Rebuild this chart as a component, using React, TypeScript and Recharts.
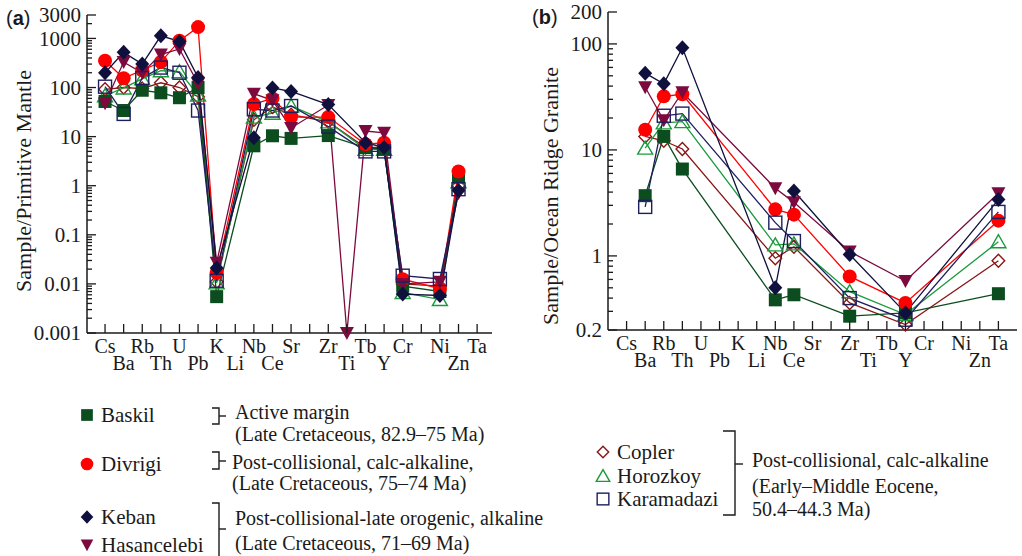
import React from 'react'
import { LineChart, Line, XAxis, YAxis } from 'recharts'

const SERIF = '"Liberation Serif", "Times New Roman", serif'
const SANS = '"Liberation Sans", Arial, sans-serif'
const INK = '#1a1a1a'

// element order on both spider diagrams ('' = unlabelled slot)
const ELEMENTS = ['Cs', 'Ba', 'Rb', 'Th', 'U', 'Pb', 'K', 'Li', 'Nb', 'Ce', 'Sr', '', 'Zr', 'Ti', 'Tb', 'Y', 'Cr', '', 'Ni', 'Zn', 'Ta']

// (a) sample / primitive mantle, one value per element (null = not plotted)
const BASKIL_A = [52, 34, 88, 78, 62, 100, 0.0055, null, 6.5, 10.4, 9.2, null, 10.5, null, 6, 5.5, 0.009, null, 0.007, 1.5, null]
const DIVRIGI_A = [350, 155, 225, 330, 900, 1700, 0.017, null, 46, 60, 25, null, 25, null, 7, 7.5, 0.0125, null, 0.008, 1.95, null]
const KEBAN_A = [200, 520, 300, 1130, 870, 160, 0.021, null, 9.5, 98, 83, null, 45, null, 7.5, 6, 0.0062, null, 0.0058, 0.8, null]
const HASAN_A = [48, 330, 200, 470, 610, 120, 0.027, null, 75, 55, 15, null, 44, 0.001, 13, 12, 0.01, null, 0.011, 0.7, null]
const COPLER_A = [92, 100, 95, 125, 100, 65, 0.011, null, 22, 40, 28, null, 20, null, 6, 6, 0.01, null, 0.009, 1.0, null]
const HOROZ_A = [68, 98, 150, 220, 210, 70, 0.0105, null, 25, 30, 42, null, 20, null, 5.5, 5.5, 0.0067, null, 0.0048, 1.2, null]
const KARAM_A = [104, 29, 156, 255, 200, 34, 0.0116, null, 36, 34, 42, null, 16, null, 5, 5, 0.0147, null, 0.0126, 0.85, null]

// (b) sample / ocean ridge granite, only these elements
const ORG_ELEMENTS = ['Ba', 'Rb', 'Th', 'Nb', 'Ce', 'Zr', 'Y', 'Ta']
const BASKIL_B = [3.7, 13.4, 6.6, 0.385, 0.43, 0.27, 0.29, 0.44]
const DIVRIGI_B = [15.5, 32, 33.5, 2.75, 2.45, 0.64, 0.36, 2.15]
const KEBAN_B = [53, 42, 92, 0.5, 4.1, 1.03, 0.29, 3.4]
const HASAN_B = [39, 19, 35, 4.35, 3.2, 1.1, 0.58, 3.9]
const COPLER_B = [13.4, 12.2, 10.2, 0.95, 1.22, 0.36, 0.225, 0.9]
const HOROZ_B = [10.4, 18, 18.5, 1.27, 1.3, 0.46, 0.28, 1.36]
const KARAM_B = [2.9, 21, 22, 2.06, 1.38, 0.4, 0.25, 2.6]

// y axis tick labels
const MAJOR_A = [0.001, 0.01, 0.1, 1, 10, 100, 1000, 3000]
const MAJOR_B = [0.2, 1, 10, 100, 200]
const MINOR_STEPS = [2, 3, 4, 5, 6, 7, 8, 9]

type Shape = 'square' | 'circle' | 'diamond' | 'down' | 'up'
type Series = { key: string; color: string; shape: Shape; filled: boolean; a: (number | null)[]; b: number[] }

// drawing order: last one ends up on top
const SERIES: Series[] = [
  { key: 'Copler', color: '#8a1616', shape: 'diamond', filled: false, a: COPLER_A, b: COPLER_B },
  { key: 'Horozkoy', color: '#1a9a3c', shape: 'up', filled: false, a: HOROZ_A, b: HOROZ_B },
  { key: 'Baskil', color: '#0b4d1e', shape: 'square', filled: true, a: BASKIL_A, b: BASKIL_B },
  { key: 'Divrigi', color: '#ff0000', shape: 'circle', filled: true, a: DIVRIGI_A, b: DIVRIGI_B },
  { key: 'Hasancelebi', color: '#7c0a3e', shape: 'down', filled: true, a: HASAN_A, b: HASAN_B },
  { key: 'Karamadazi', color: '#1e1e5e', shape: 'square', filled: false, a: KARAM_A, b: KARAM_B },
  { key: 'Keban', color: '#10103e', shape: 'diamond', filled: true, a: KEBAN_A, b: KEBAN_B },
]
const byKey = (k: string) => SERIES.find((s) => s.key === k)!

const rowsA = ELEMENTS.map((el, i) => {
  const row: Record<string, any> = { i, el }
  SERIES.forEach((s) => (row[s.key] = s.a[i]))
  return row
})
const rowsB = ORG_ELEMENTS.map((el, k) => {
  const row: Record<string, any> = { i: ELEMENTS.indexOf(el), el }
  SERIES.forEach((s) => (row[s.key] = s.b[k]))
  return row
})

function logTicks(majors: number[]) {
  const lo = majors[0]
  const hi = majors[majors.length - 1]
  const out = [...majors]
  const isMajor = (v: number) => majors.some((mm) => Math.abs(mm - v) < mm * 1e-9)
  // every decade from the one below lo up to hi gets 2..9 minor ticks
  let d = Math.pow(10, Math.floor(Math.log10(lo) + 1e-9))
  while (d < hi) {
    MINOR_STEPS.forEach((k) => {
      const v = d * k
      if (v > lo && v < hi && !isMajor(v)) out.push(v)
    })
    d *= 10
  }
  return out.sort((p, q) => p - q)
}

function Mark({ shape, x, y, color, filled, s = 1 }: { shape: Shape; x: number; y: number; color: string; filled: boolean; s?: number }) {
  const fill = filled ? color : 'none'
  const sw = filled ? 0 : 1.4
  if (shape === 'circle') return <circle cx={x} cy={y} r={7 * s} fill={fill} stroke={color} strokeWidth={sw} />
  if (shape === 'square') {
    const h = 6.5 * s
    return <rect x={x - h} y={y - h} width={2 * h} height={2 * h} fill={fill} stroke={color} strokeWidth={sw} />
  }
  if (shape === 'diamond') {
    const w = (filled ? 7 : 6.3) * s
    const h = (filled ? 7.5 : 6.5) * s
    return <polygon points={`${x},${y - h} ${x + w},${y} ${x},${y + h} ${x - w},${y}`} fill={fill} stroke={color} strokeWidth={sw} />
  }
  if (shape === 'down') {
    const w = 7 * s
    return <polygon points={`${x - w},${y - 6 * s} ${x + w},${y - 6 * s} ${x},${y + 7 * s}`} fill={fill} stroke={color} strokeWidth={sw} />
  }
  const w = 7.5 * s
  return <polygon points={`${x - w},${y + 6 * s} ${x + w},${y + 6 * s} ${x},${y - 7 * s}`} fill={fill} stroke={color} strokeWidth={sw} />
}

const leftTick = (majors: number[]) => (p: any) => {
  const v = p.payload.value
  const major = majors.includes(v)
  return (
    <g>
      <line x1={p.x} x2={p.x + (major ? 9 : 5)} y1={p.y} y2={p.y} stroke={INK} strokeWidth={1.3} />
      {major && (
        <text x={p.x - 6} y={p.y} dy="0.35em" textAnchor="end" fontSize={21} fontFamily={SERIF} fill={INK}>
          {String(v)}
        </text>
      )}
    </g>
  )
}
const rightTick = (majors: number[]) => (p: any) => {
  const major = majors.includes(p.payload.value)
  return <line x1={p.x} x2={p.x - (major ? 9 : 5)} y1={p.y} y2={p.y} stroke={INK} strokeWidth={1.3} />
}
const bottomTick = (p: any) => {
  const i = p.payload.value
  return (
    <g>
      <line x1={p.x} x2={p.x} y1={p.y} y2={p.y - 9} stroke={INK} strokeWidth={1.3} />
      <text x={p.x} y={p.y + (i % 2 ? 30 : 13)} dy="0.35em" textAnchor="middle" fontSize={20} fontFamily={SERIF} fill={INK}>
        {ELEMENTS[i]}
      </text>
    </g>
  )
}
const topTick = (p: any) => <line x1={p.x} x2={p.x} y1={p.y} y2={p.y + 9} stroke={INK} strokeWidth={1.3} />

const IDX = ELEMENTS.map((_, i) => i)

function Spider({ data, majors, xDomain, width, height, margin }: { data: any[]; majors: number[]; xDomain: [number, number]; width: number; height: number; margin: any }) {
  const ticks = logTicks(majors)
  const yDomain: [number, number] = [majors[0], majors[majors.length - 1]]
  const axis = { stroke: INK, strokeWidth: 1.5 }
  return (
    <LineChart width={width} height={height} data={data} margin={margin}>
      <XAxis xAxisId="b" dataKey="i" type="number" domain={xDomain} ticks={IDX} interval={0} tickSize={0} tickMargin={0} tickLine={false} tick={bottomTick} axisLine={axis} height={40} />
      <XAxis xAxisId="t" orientation="top" dataKey="i" type="number" domain={xDomain} allowDataOverflow ticks={IDX} interval={0} tickSize={0} tickMargin={0} tickLine={false} tick={topTick} axisLine={axis} height={0} />
      <YAxis yAxisId="l" type="number" scale="log" domain={yDomain} ticks={ticks} interval={0} tickSize={0} tickMargin={0} tickLine={false} tick={leftTick(majors)} axisLine={axis} width={60} />
      <YAxis yAxisId="r" orientation="right" type="number" scale="log" domain={yDomain} allowDataOverflow ticks={ticks} interval={0} tickSize={0} tickMargin={0} tickLine={false} tick={rightTick(majors)} axisLine={axis} width={0} />
      {SERIES.map((s) => (
        <Line
          key={s.key}
          xAxisId="b"
          yAxisId="l"
          dataKey={s.key}
          stroke={s.color}
          strokeWidth={1.3}
          connectNulls
          isAnimationActive={false}
          activeDot={false}
          dot={(p: any) =>
            p.value == null || p.cy == null ? (
              <g key={`${s.key}-${p.index}`} />
            ) : (
              <Mark key={`${s.key}-${p.index}`} shape={s.shape} x={p.cx} y={p.cy} color={s.color} filled={s.filled} />
            )
          }
        />
      ))}
    </LineChart>
  )
}

const LEGEND_ROWS = [
  { key: 'Baskil', x: 87, y: 415 },
  { key: 'Divrigi', x: 87, y: 464 },
  { key: 'Keban', x: 87, y: 517 },
  { key: 'Hasancelebi', x: 87, y: 545 },
  { key: 'Copler', x: 603, y: 452 },
  { key: 'Horozkoy', x: 603, y: 476 },
  { key: 'Karamadazi', x: 603, y: 499 },
]

const NOTES = [
  { x: 235, y: 412, t: 'Active margin' },
  { x: 235, y: 434, t: '(Late Cretaceous, 82.9–75 Ma)' },
  { x: 232, y: 462, t: 'Post-collisional, calc-alkaline,' },
  { x: 232, y: 483, t: '(Late Cretaceous, 75–74 Ma)' },
  { x: 235, y: 518, t: 'Post-collisional-late orogenic, alkaline' },
  { x: 235, y: 543, t: '(Late Cretaceous, 71–69 Ma)' },
  { x: 752, y: 460, t: 'Post-collisional, calc-alkaline' },
  { x: 752, y: 486, t: '(Early–Middle Eocene,' },
  { x: 752, y: 509, t: '50.4–44.3 Ma)' },
]

function Bracket({ x, top, bottom, mid, left, right, open }: { x: number; top: number; bottom: number; mid: number; left: number; right: number; open?: boolean }) {
  return (
    <g stroke={INK} strokeWidth={1.4} fill="none">
      <polyline points={open ? `${left},${top} ${x},${top} ${x},${bottom}` : `${left},${top} ${x},${top} ${x},${bottom} ${left},${bottom}`} />
      <line x1={x} x2={right} y1={mid} y2={mid} />
    </g>
  )
}

export default function App() {
  return (
    <div style={{ position: 'absolute', left: 0, top: 0, width: 1022, height: 556, background: '#fff', overflow: 'hidden' }}>
      <div style={{ position: 'absolute', left: 0, top: 0 }}>
        <Spider data={rowsA} majors={MAJOR_A} xDomain={[-0.97, 20.8]} width={520} height={380} margin={{ top: 15, left: 27, right: 28, bottom: 7 }} />
      </div>
      <div style={{ position: 'absolute', left: 520, top: 0 }}>
        <Spider data={rowsB} majors={MAJOR_B} xDomain={[-1, 21]} width={502} height={380} margin={{ top: 12, left: 28, right: 5, bottom: 10 }} />
      </div>
      <svg width={1022} height={556} style={{ position: 'absolute', left: 0, top: 0, pointerEvents: 'none' }}>
        <text x={6} y={18} dy="0.35em" fontSize={20} fontFamily={SANS} fill={INK}>
          (<tspan fontWeight="bold">a</tspan>)
        </text>
        <text x={532} y={17} dy="0.35em" fontSize={20} fontFamily={SANS} fill={INK}>
          (<tspan fontWeight="bold">b</tspan>)
        </text>
        <text transform="translate(23,181) rotate(-90)" textAnchor="middle" dy="0.35em" fontSize={22} fontFamily={SERIF} fill={INK}>
          Sample/Primitive Mantle
        </text>
        <text transform="translate(550,196) rotate(-90)" textAnchor="middle" dy="0.35em" fontSize={22} fontFamily={SERIF} fill={INK}>
          Sample/Ocean Ridge Granite
        </text>

        {LEGEND_ROWS.map((r) => {
          const s = byKey(r.key)
          return (
            <g key={r.key}>
              <Mark shape={s.shape} x={r.x} y={r.y} color={s.color} filled={s.filled} s={0.9} />
              <text x={r.x + 14} y={r.y} dy="0.35em" fontSize={21} fontFamily={SERIF} fill={INK}>
                {r.key}
              </text>
            </g>
          )
        })}
        <Bracket x={219} top={408} bottom={424} mid={416} left={212} right={226} />
        <Bracket x={219} top={452} bottom={469} mid={461} left={212} right={226} />
        <Bracket x={219} top={503} bottom={560} mid={529} left={212} right={226} open />
        <Bracket x={735} top={431} bottom={515} mid={464} left={723} right={743} />
        {NOTES.map((n) => (
          <text key={n.t} x={n.x} y={n.y} dy="0.35em" fontSize={20} fontFamily={SERIF} fill={INK}>
            {n.t}
          </text>
        ))}
      </svg>
    </div>
  )
}
